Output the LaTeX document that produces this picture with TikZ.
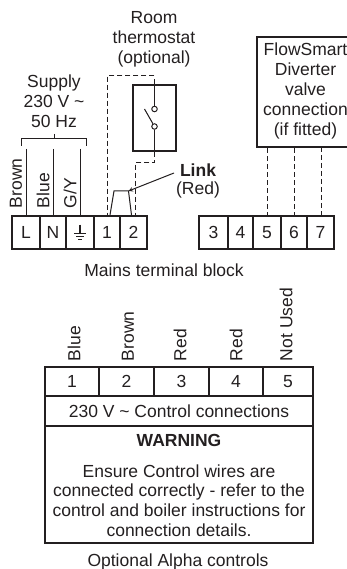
\documentclass[tikz,border=0pt]{standalone}
\usepackage{fontspec}
\setmainfont{Liberation Sans}
\usepackage{tikz}
\usetikzlibrary{arrows,calc,positioning}
\definecolor{ink}{HTML}{231F20}
\newdimen\hdim
\hdim=33pt
\tikzstyle{label}=[
  color=ink,
  font={\fontsize{17.5}{19.8}\selectfont},
  align=center,
  inner sep=0pt,
  outer sep=0pt,
]
\tikzstyle{wirelabel}=[
  label,
  anchor=west,
  rotate=90,
]
\tikzstyle{cell}=[
  label,
  draw=ink,
  line width=1.3pt,
  minimum height=\hdim,
  rectangle,
]
\tikzstyle{ctrlcell}=[
  cell,
  minimum height=29pt,
]
\tikzstyle{outline}=[
  draw=ink,
  line width=2.2pt,
]
\tikzstyle{wire}=[
  draw=ink,
  line width=1pt,
]
\tikzstyle{dashwire}=[
  wire,
  dash pattern=on 5pt off 3pt,
]
\tikzset{
  >=stealth,
}
\begin{document}
\begin{tikzpicture}[x=1pt,y=-1pt]
      \useasboundingbox (0,0) rectangle (347,569);
      %% mains terminal block, left part
      \node (L) [cell, minimum width=28pt] at (26,232.5) {L};
      \node (N) [cell, minimum width=26pt, right=0pt of L] {N};
      \node (E) [cell, minimum width=28pt, right=0pt of N] {};
      \node (T1) [cell, minimum width=26pt, right=0pt of E] {1};
      \node (T2) [cell, minimum width=27pt, right=0pt of T1] {2};
      \draw [outline] (L.north west) rectangle (T2.south east);
      \draw [wire, line width=1.1pt] ($(E.center)+(0,-8)$) -- ($(E.center)+(0,1)$)
      ($(E.center)+(-6,1)$) -- ($(E.center)+(6,1)$)
      ($(E.center)+(-4,4)$) -- ($(E.center)+(4,4)$)
      ($(E.center)+(-2,7)$) -- ($(E.center)+(2,7)$);
      %% right part
      \node (T3) [cell, minimum width=29pt] at (213.5,232.5) {3};
      \node (T4) [cell, minimum width=25pt, right=0pt of T3] {4};
      \node (T5) [cell, minimum width=28pt, right=0pt of T4] {5};
      \node (T6) [cell, minimum width=26pt, right=0pt of T5] {6};
      \node (T7) [cell, minimum width=27pt, right=0pt of T6] {7};
      \draw [outline] (T3.north west) rectangle (T7.south east);
      \node (mains) [label] at (164,270) {Mains terminal block};
      %% supply
      \node (supply) [label] at (54,101) {Supply\\230 V \textasciitilde\\50 Hz};
      \coordinate (BL) at (21,139);
      \coordinate (BR) at (86,139);
      \coordinate (BT) at (54,134);
      \draw [wire] ($(BL)+(0,7)$) -- (BL) -- (BR) -- ($(BR)+(0,7)$);
      \draw [wire] (BT) -- (BT|-BL);
      \coordinate (WL) at (26,149);
      \coordinate (WN) at (53.5,149);
      \coordinate (WE) at (80,149);
      \draw [wire] (WL) -- (WL|-L.north);
      \draw [wire] (WN) -- (WN|-N.north);
      \draw [wire] (WE) -- (WE|-E.north);
      \node (brown) [wirelabel] at (16,208) {Brown};
      \node (blue) [wirelabel] at (43,208) {Blue};
      \node (gy) [wirelabel] at (70,208) {G/Y};
      %% thermostat
      \node (room) [label] at (154,39) {Room\\thermostat\\(optional)};
      \node (stat) [draw=ink, line width=2.2pt, minimum width=43pt, minimum height=66pt, inner sep=0pt] at (154.5,118) {};
      \node (c1) [draw=ink, line width=1pt, circle, minimum size=5.5pt, inner sep=0pt] at (154.5,109) {};
      \node (c2) [draw=ink, line width=1pt, circle, minimum size=5.5pt, inner sep=0pt] at (154.5,126.5) {};
      \draw [wire] (stat.north) -- (c1);
      \draw [wire] (c2) -- (stat.south);
      \draw [wire] (c2) -- (144.5,109);
      \coordinate (A) at (154.5,76);
      \coordinate (B) at (107,76);
      \coordinate (C) at (154.5,163);
      \coordinate (D) at (135,163);
      \draw [dashwire] (stat.north) -- (A) -- (B) -- (B|-T1.north);
      \draw [dashwire] (stat.south) -- (C) -- (D) -- (D|-T2.north);
      %% link
      \coordinate (LA) at (110,215);
      \coordinate (LB) at (114,191);
      \coordinate (LC) at (128.5,191);
      \coordinate (LD) at (131.5,215);
      \draw [wire] (LA) -- (LB) -- (LC) -- (LD);
      \node (link) [label, anchor=west] at (180,170) {\textbf{Link}};
      \node (red) [label] at (198,190) {(Red)};
      \draw [wire, ->] (link.west)++(-6,3) -- (LC);
      %% diverter valve
      \node (valve) [draw=ink, line width=2.2pt, minimum width=100pt, minimum height=110pt, inner sep=0pt] at (307,92) {};
      \node (valvetext) [label] at (305.5,91) {FlowSmart\\Diverter\\valve\\connection\\(if fitted)};
      \draw [dashwire] (T5.center|-valve.south) -- (T5.north);
      \draw [dashwire] (T6.center|-valve.south) -- (T6.north);
      \coordinate (V7) at (321,147);
      \draw [dashwire] (V7) -- (V7|-T7.north);
      %% alpha controls
      \node (P1) [ctrlcell, minimum width=54pt] at (72,381.5) {1};
      \node (P2) [ctrlcell, minimum width=55pt, right=0pt of P1] {2};
      \node (P3) [ctrlcell, minimum width=55pt, right=0pt of P2] {3};
      \node (P4) [ctrlcell, minimum width=54pt, right=0pt of P3] {4};
      \node (P5) [ctrlcell, minimum width=50pt, right=0pt of P4] {5};
      \node (ctrl) [ctrlcell, minimum width=268pt, minimum height=30pt, below=0pt of P1.south west, anchor=north west] {230 V \textasciitilde{} Control connections};
      \node (warn) [cell, minimum width=268pt, minimum height=117pt, below=0pt of ctrl.south west, anchor=north west] {};
      \node (warning) [label] at (179,440) {\textbf{WARNING}};
      \node (ensure) [label] at (179,500.5) {Ensure Control wires are\\connected correctly - refer to the\\control and boiler instructions for\\connection details.};
      \draw [outline] (P1.north west) rectangle (warn.south east);
      \node (optional) [label] at (178,562) {Optional Alpha controls};
      \node (w1) [wirelabel] at (74,361) {Blue};
      \node (w2) [wirelabel] at (128,361) {Brown};
      \node (w3) [wirelabel] at (180,361) {Red};
      \node (w4) [wirelabel] at (236,361) {Red};
      \node (w5) [wirelabel] at (286,361) {Not Used};
    \end{tikzpicture}
\end{document}
